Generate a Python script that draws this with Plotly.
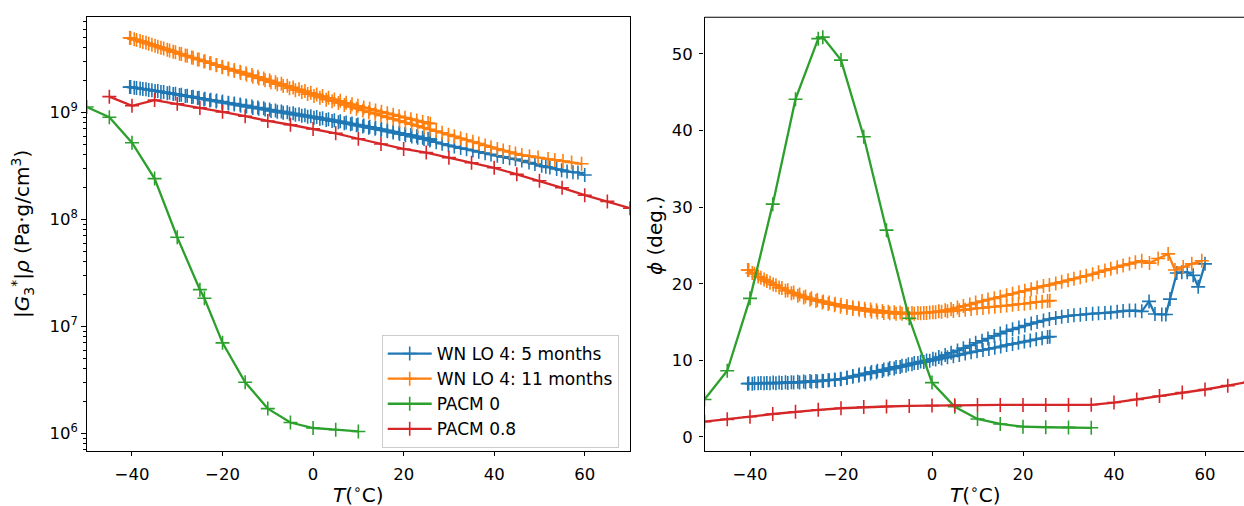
import plotly.graph_objects as go

# ---------------- data ----------------
# WN LO 4: 5 months (measurement order: 25.9 -> -40.5, then -40.3 -> 60)
T_WN5 = [25.9, 25.4, 24.2, 22.9, 21.6, 20.3, 19.0, 17.7, 16.4, 15.1, 13.8, 12.5, 11.2, 9.9, 8.6,
         7.3, 6.0, 4.7, 3.4, 2.1, 0.8, -0.5, -1.8, -3.1, -4.4, -5.7, -7.0, -8.3, -9.6, -10.9,
         -12.2, -13.5, -14.8, -16.1, -17.4, -18.7, -20.0, -21.3, -22.6, -23.9, -25.2, -26.5, -27.8,
         -29.1, -30.4, -31.7, -33.0, -34.3, -35.6, -36.9, -38.2, -39.5, -40.5,
         -40.3, -39.0, -37.6, -36.3, -34.9, -33.6, -32.2, -30.9, -29.5, -28.2, -26.8, -25.5, -24.1,
         -22.8, -21.4, -20.1, -18.7, -17.4, -16.0, -14.7, -13.3, -12.0, -10.6, -9.3, -7.9, -6.6,
         -5.2, -3.9, -2.5, -1.2, 0.2, 1.5, 2.9, 4.2, 5.6, 6.9, 8.3, 9.6, 11.0, 12.3, 13.7, 15.0,
         16.4, 17.7, 19.1, 20.4, 21.8, 23.1, 24.5, 25.8, 27.2, 28.5, 29.9, 31.2, 32.6, 33.9, 35.3,
         36.6, 38.0, 39.3, 40.7, 42.0, 43.4, 44.7, 46.1, 47.7, 49.0, 50.5, 51.4, 52.3, 53.8, 54.9,
         56.1, 57.4, 58.5, 60.0]
G_WN5 = [5.60e8, 5.65e8, 5.79e8, 5.96e8, 6.12e8, 6.28e8, 6.44e8, 6.61e8, 6.79e8, 6.98e8,
         7.16e8, 7.33e8, 7.52e8, 7.69e8, 7.87e8, 8.05e8, 8.24e8, 8.43e8, 8.61e8, 8.81e8,
         9.02e8, 9.20e8, 9.40e8, 9.59e8, 9.79e8, 1.00e9, 1.02e9, 1.04e9, 1.06e9, 1.09e9,
         1.11e9, 1.13e9, 1.16e9, 1.18e9, 1.21e9, 1.23e9, 1.26e9, 1.29e9, 1.31e9, 1.34e9,
         1.37e9, 1.40e9, 1.43e9, 1.46e9, 1.49e9, 1.52e9, 1.55e9, 1.58e9, 1.61e9, 1.64e9,
         1.67e9, 1.70e9, 1.72e9,
         1.72e9, 1.69e9, 1.65e9, 1.62e9, 1.58e9, 1.55e9, 1.51e9, 1.48e9, 1.45e9, 1.42e9,
         1.39e9, 1.36e9, 1.32e9, 1.29e9, 1.26e9, 1.23e9, 1.21e9, 1.18e9, 1.15e9, 1.13e9,
         1.10e9, 1.08e9, 1.06e9, 1.03e9, 1.01e9, 9.91e8, 9.68e8, 9.48e8, 9.29e8, 9.08e8,
         8.89e8, 8.69e8, 8.47e8, 8.28e8, 8.09e8, 7.91e8, 7.73e8, 7.55e8, 7.36e8, 7.19e8,
         7.01e8, 6.84e8, 6.64e8, 6.46e8, 6.28e8, 6.11e8, 5.93e8, 5.78e8, 5.62e8, 5.45e8,
         5.25e8, 5.08e8, 4.91e8, 4.78e8, 4.63e8, 4.51e8, 4.39e8, 4.27e8, 4.15e8, 4.04e8,
         3.93e8, 3.83e8, 3.72e8, 3.65e8, 3.54e8, 3.40e8, 3.29e8, 3.16e8, 3.10e8, 3.05e8,
         2.95e8, 2.88e8, 2.79e8, 2.75e8, 2.74e8, 2.59e8]
PHI_WN5 = [13.1, 13.05, 12.9, 12.75, 12.6, 12.45, 12.3, 12.15, 12.0, 11.8, 11.65, 11.5, 11.35,
           11.2, 11.05, 10.9, 10.7, 10.55, 10.4, 10.25, 10.1, 9.95, 9.8, 9.65, 9.5, 9.3, 9.15,
           8.95, 8.8, 8.6, 8.45, 8.3, 8.15, 8.0, 7.85, 7.7, 7.55, 7.45, 7.4, 7.3, 7.25, 7.2,
           7.15, 7.1, 7.1, 7.05, 7.05, 7.0, 7.0, 7.0, 7.0, 6.95, 6.95,
           7.0, 7.0, 7.05, 7.05, 7.1, 7.1, 7.15, 7.15, 7.2, 7.25, 7.3, 7.3, 7.35, 7.4, 7.5,
           7.6, 7.75, 7.95, 8.15, 8.3, 8.5, 8.65, 8.8, 9.0, 9.15, 9.3, 9.5, 9.65, 9.85, 10.0,
           10.2, 10.45, 10.7, 11.0, 11.3, 11.6, 11.95, 12.3, 12.55, 12.85, 13.2, 13.5, 13.8,
           14.05, 14.3, 14.55, 14.8, 15.0, 15.2, 15.4, 15.55, 15.7, 15.8, 15.9, 15.95, 16.05,
           16.1, 16.15, 16.2, 16.25, 16.35, 16.45, 16.5, 16.5, 16.4, 17.7, 16.05, 16.0, 16.0,
           18.0, 21.4, 21.5, 21.5, 21.1, 19.6, 22.6]

# WN LO 4: 11 months
T_WN11 = [25.9, 25.4, 24.2, 22.9, 21.6, 20.3, 19.0, 17.7, 16.4, 15.1, 13.8, 12.5, 11.2, 9.9, 8.6,
          7.3, 6.0, 4.7, 3.4, 2.1, 0.8, -0.5, -1.8, -3.1, -4.4, -5.7, -7.0, -8.3, -9.6, -10.9,
          -12.2, -13.5, -14.8, -16.1, -17.4, -18.7, -20.0, -21.3, -22.6, -23.9, -25.2, -26.5, -27.8,
          -29.1, -30.4, -31.7, -33.0, -34.3, -35.6, -36.9, -38.2, -39.5, -40.5,
          -40.3, -39.0, -37.6, -36.3, -34.9, -33.6, -32.2, -30.9, -29.5, -28.2, -26.8, -25.5, -24.1,
          -22.8, -21.4, -20.1, -18.7, -17.4, -16.0, -14.7, -13.3, -12.0, -10.6, -9.3, -7.9, -6.6,
          -5.2, -3.9, -2.5, -1.2, 0.2, 1.5, 2.9, 4.2, 5.6, 6.9, 8.3, 9.6, 11.0, 12.3, 13.7, 15.0,
          16.4, 17.7, 19.1, 20.4, 21.8, 23.1, 24.5, 25.8, 27.2, 28.5, 29.9, 31.2, 32.6, 33.9, 35.3,
          36.6, 38.0, 39.3, 40.7, 42.0, 43.4, 44.7, 46.1, 47.8, 49.7, 51.9, 53.4, 55.2, 57.1, 59.3]
G_WN11 = [7.83e8, 7.94e8, 8.13e8, 8.38e8, 8.63e8, 8.91e8, 9.20e8, 9.51e8, 9.79e8, 1.01e9,
          1.04e9, 1.08e9, 1.11e9, 1.15e9, 1.19e9, 1.23e9, 1.28e9, 1.32e9, 1.37e9, 1.42e9,
          1.47e9, 1.52e9, 1.58e9, 1.64e9, 1.71e9, 1.77e9, 1.85e9, 1.91e9, 1.99e9, 2.07e9,
          2.15e9, 2.23e9, 2.32e9, 2.40e9, 2.48e9, 2.57e9, 2.67e9, 2.77e9, 2.88e9, 3.00e9,
          3.12e9, 3.24e9, 3.37e9, 3.51e9, 3.65e9, 3.79e9, 3.94e9, 4.10e9, 4.28e9, 4.46e9,
          4.65e9, 4.83e9, 4.98e9,
          4.94e9, 4.74e9, 4.55e9, 4.37e9, 4.18e9, 4.02e9, 3.85e9, 3.69e9, 3.53e9, 3.40e9,
          3.25e9, 3.12e9, 2.99e9, 2.87e9, 2.75e9, 2.64e9, 2.53e9, 2.43e9, 2.33e9, 2.24e9,
          2.15e9, 2.07e9, 1.99e9, 1.91e9, 1.83e9, 1.76e9, 1.68e9, 1.61e9, 1.55e9, 1.48e9,
          1.42e9, 1.37e9, 1.31e9, 1.27e9, 1.22e9, 1.17e9, 1.12e9, 1.08e9, 1.04e9, 1.00e9,
          9.68e8, 9.33e8, 8.97e8, 8.67e8, 8.34e8, 8.04e8, 7.73e8, 7.46e8, 7.18e8, 6.92e8,
          6.67e8, 6.43e8, 6.18e8, 5.96e8, 5.71e8, 5.51e8, 5.30e8, 5.11e8, 4.90e8, 4.72e8,
          4.54e8, 4.40e8, 4.25e8, 4.11e8, 3.98e8, 3.89e8, 3.78e8, 3.66e8, 3.59e8, 3.50e8,
          3.40e8, 3.30e8]
PHI_WN11 = [17.8, 17.75, 17.65, 17.6, 17.5, 17.4, 17.35, 17.25, 17.15, 17.1, 17.0, 16.95, 16.85,
            16.8, 16.7, 16.6, 16.55, 16.45, 16.4, 16.35, 16.3, 16.25, 16.2, 16.2, 16.2, 16.2,
            16.25, 16.3, 16.35, 16.45, 16.55, 16.65, 16.75, 16.85, 16.95, 17.1, 17.25, 17.4,
            17.55, 17.7, 17.9, 18.1, 18.35, 18.6, 18.85, 19.15, 19.45, 19.8, 20.15, 20.55,
            20.95, 21.4, 21.8,
            21.8, 21.3, 20.8, 20.35, 19.9, 19.5, 19.1, 18.75, 18.45, 18.2, 17.95, 17.75, 17.55,
            17.35, 17.2, 17.0, 16.85, 16.7, 16.6, 16.45, 16.35, 16.25, 16.2, 16.15, 16.1, 16.1,
            16.1, 16.1, 16.15, 16.2, 16.3, 16.4, 16.55, 16.7, 16.9, 17.1, 17.3, 17.55, 17.75,
            17.95, 18.1, 18.3, 18.5, 18.7, 18.9, 19.1, 19.3, 19.5, 19.7, 19.85, 20.05, 20.25,
            20.45, 20.65, 20.85, 21.05, 21.25, 21.5, 21.75, 21.95, 22.15, 22.4, 22.6, 22.8,
            23.0, 22.7, 23.3, 23.9, 21.8, 22.2, 22.6, 23.0]

# PACM 0
T_PACM0_G = [-50, -45, -40, -35, -30, -25, -24, -20, -15, -10, -5, 0, 5, 10]
G_PACM0 = [1.12e9, 9.0e8, 5.2e8, 2.4e8, 6.8e7, 2.2e7, 1.83e7, 7.0e6, 3.0e6, 1.7e6,
           1.26e6, 1.12e6, 1.08e6, 1.04e6]
T_PACM0_PHI = [-50, -45, -40, -35, -30, -25, -24, -20, -15, -10, -5, 0, 5, 10, 15, 20, 25, 30, 35]
PHI_PACM0 = [4.9, 8.65, 18.1, 30.4, 44.1, 52.0, 52.2, 49.2, 39.2, 27.0, 15.5, 7.1, 3.95,
             2.35, 1.7, 1.35, 1.27, 1.25, 1.2]

# PACM 0.8
T_PACM08_G = [-45, -40, -35, -30, -25, -20, -15, -10, -5, 0, 5, 10, 15, 20, 25, 30, 35, 40,
              45, 50, 55, 60, 65, 70]
G_PACM08 = [1.4e9, 1.15e9, 1.3e9, 1.2e9, 1.1e9, 1.01e9, 9.2e8, 8.3e8, 7.65e8, 7.0e8, 6.37e8,
            5.66e8, 5.06e8, 4.54e8, 4.2e8, 3.77e8, 3.38e8, 3.03e8, 2.63e8, 2.29e8, 1.97e8,
            1.68e8, 1.47e8, 1.27e8]
T_PACM08_PHI = [-50, -45, -40, -35, -30, -25, -20, -15, -10, -5, 0, 5, 10, 15, 20, 25, 30, 35,
                40, 45, 50, 55, 60, 65, 70]
PHI_PACM08 = [2.0, 2.3, 2.65, 3.0, 3.3, 3.55, 3.75, 3.9, 3.98, 4.05, 4.1, 4.15, 4.18, 4.18,
              4.18, 4.18, 4.18, 4.2, 4.5, 4.9, 5.35, 5.8, 6.2, 6.7, 7.25]

assert len(T_WN5) == len(G_WN5) == len(PHI_WN5)
assert len(T_WN11) == len(G_WN11) == len(PHI_WN11)
assert len(T_PACM0_G) == len(G_PACM0) and len(T_PACM0_PHI) == len(PHI_PACM0)
assert len(T_PACM08_G) == len(G_PACM08) and len(T_PACM08_PHI) == len(PHI_PACM08)

SERIES = [
    ("WN LO 4: 5 months", "#1f77b4", T_WN5, G_WN5, T_WN5, PHI_WN5),
    ("WN LO 4: 11 months", "#ff7f0e", T_WN11, G_WN11, T_WN11, PHI_WN11),
    ("PACM 0", "#2ca02c", T_PACM0_G, G_PACM0, T_PACM0_PHI, PHI_PACM0),
    ("PACM 0.8", "#d62728", T_PACM08_G, G_PACM08, T_PACM08_PHI, PHI_PACM08),
]

X_TICKS = [-40, -20, 0, 20, 40, 60]
Y1_TICKS = [1e6, 1e7, 1e8, 1e9]
Y2_TICKS = [0, 10, 20, 30, 40, 50]

# ---------------- figure ----------------
W, H = 1244, 506
FONT = "DejaVu Sans"
TICK_PX = 16.5
LEG_PX = 17
LABEL_PX = 20

fig = go.Figure()
for name, color, tg, g, tp, p in SERIES:
    common = dict(mode="lines+markers", line=dict(color=color, width=2.3),
                  marker=dict(symbol="cross-thin", size=10, color=color,
                              line=dict(color=color, width=1.6)),
                  name=name)
    fig.add_trace(go.Scatter(x=tg, y=g, xaxis="x", yaxis="y", showlegend=True, **common))
    fig.add_trace(go.Scatter(x=tp, y=p, xaxis="x2", yaxis="y2", showlegend=False, **common))

def minus(v):
    return str(v).replace("-", "\u2212")

L0, L1 = 86.7 / W, 630.0 / W
R0 = 704.5 / W
YB, YT = 1 - 450.7 / H, 1 - 17.3 / H

axis_common = dict(showgrid=False, zeroline=False, showline=True, linecolor="black",
                   linewidth=1.1, ticks="outside", ticklen=4.5, tickwidth=1.1, tickcolor="black",
                   tickfont=dict(family=FONT, size=TICK_PX, color="black"), automargin=False)

minor_vals = [m * 10 ** e for e in range(5, 10) for m in range(2, 10)]

fig.update_layout(
    width=W, height=H, margin=dict(l=0, r=0, t=0, b=0),
    plot_bgcolor="white", paper_bgcolor="white",
    font=dict(family=FONT, size=TICK_PX, color="black"),
    xaxis=dict(domain=[L0, L1], range=[-50, 70], tickmode="array", tickvals=X_TICKS,
               ticktext=[minus(v) for v in X_TICKS], mirror=True, anchor="y",
               ticklabelstandoff=4, **axis_common),
    yaxis=dict(domain=[YB, YT], type="log", range=[5.837, 9.888], tickmode="array",
               tickvals=Y1_TICKS, ticktext=["10<sup>6</sup>", "10<sup>7</sup>", "10<sup>8</sup>",
                                            "10<sup>9</sup>"],
               mirror=True, anchor="x", ticklabelstandoff=0,
               minor=dict(tickmode="array", tickvals=minor_vals, ticks="outside", ticklen=2.5,
                          tickwidth=0.9, tickcolor="black"),
               **axis_common),
    xaxis2=dict(domain=[R0, 1.0], range=[-50, 68.57], tickmode="array", tickvals=X_TICKS,
                ticktext=[minus(v) for v in X_TICKS], mirror=False, anchor="y2",
                ticklabelstandoff=4, **axis_common),
    yaxis2=dict(domain=[YB, YT], range=[-1.79, 54.79], tickmode="array", tickvals=Y2_TICKS,
                ticktext=[str(v) for v in Y2_TICKS], mirror=False, anchor="x2",
                ticklabelstandoff=3, **axis_common),
    legend=dict(x=381.7 / W, y=1 - 335 / H, xanchor="left", yanchor="top",
                bgcolor="rgba(255,255,255,0.8)", bordercolor="#cccccc", borderwidth=1,
                font=dict(family=FONT, size=LEG_PX, color="black"), itemwidth=44,
                tracegroupgap=0),
    shapes=[dict(type="line", xref="x2 domain", yref="y2 domain", x0=0, x1=1, y0=1, y1=1,
                 line=dict(color="black", width=1.1))],
    annotations=[
        dict(text="<i>T</i>(<sup>\u2218</sup>C)", xref="paper", yref="paper",
             x=(86.7 + 630) / 2 / W, y=1 - 494 / H, showarrow=False,
             font=dict(family=FONT, size=LABEL_PX, color="black"), xanchor="center", yanchor="middle"),
        dict(text="<i>T</i>(<sup>\u2218</sup>C)", xref="paper", yref="paper",
             x=975 / W, y=1 - 494 / H, showarrow=False,
             font=dict(family=FONT, size=LABEL_PX, color="black"), xanchor="center", yanchor="middle"),
        dict(text="|<i>G</i><sub>3</sub><sup>*</sup>|<i>\u03c1</i> (Pa\u00b7g/cm<sup>3</sup>)",
             xref="paper", yref="paper", x=22 / W, y=1 - 234 / H, showarrow=False, textangle=-90,
             font=dict(family=FONT, size=LABEL_PX, color="black"), xanchor="center", yanchor="middle"),
        dict(text="<i>\u03d5</i> (deg.)", xref="paper", yref="paper", x=655 / W, y=1 - 236 / H,
             showarrow=False, textangle=-90,
             font=dict(family=FONT, size=LABEL_PX, color="black"), xanchor="center", yanchor="middle"),
    ],
)

fig.write_html("out.html")
